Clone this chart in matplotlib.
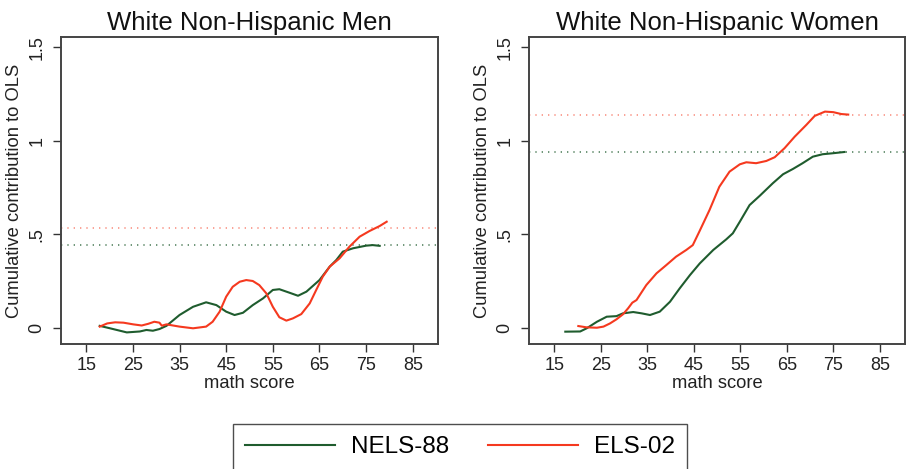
import matplotlib
matplotlib.use("Agg")
import matplotlib.pyplot as plt

plt.rcParams['font.family'] = ['Liberation Sans', 'DejaVu Sans']

# couleurs des deux enquetes
vert = '#1f5c2e'
rouge = '#f5391f'

# hommes blancs non hispaniques
men_nels_x = [17.9, 20.1, 23.7, 26.5, 27.9, 29.3, 30.7, 32.2, 35.0, 37.9, 40.7, 42.9, 45.0, 46.8,
              48.6, 50.7, 52.9, 55.0, 56.4, 58.6, 60.4, 62.2, 65.0, 67.2, 68.6, 70.0, 72.2, 75.0,
              76.4, 77.9]
men_nels_y = [0.010, -0.003, -0.025, -0.020, -0.012, -0.016, -0.007, 0.010, 0.068, 0.112, 0.136,
              0.121, 0.086, 0.068, 0.080, 0.121, 0.157, 0.202, 0.206, 0.187, 0.171, 0.193, 0.255,
              0.327, 0.362, 0.407, 0.425, 0.439, 0.442, 0.438]
men_els_x = [17.9, 19.5, 21.2, 23.0, 25.1, 26.9, 28.3, 29.6, 30.7, 31.2, 32.2, 35.0, 37.9, 40.7,
             42.1, 43.6, 45.0, 46.4, 47.9, 49.3, 50.7, 52.1, 53.6, 55.0, 56.4, 57.9, 59.3, 61.1,
             62.9, 64.3, 65.7, 67.2, 69.3, 71.4, 73.6, 75.7, 77.9, 79.4]
men_els_y = [0.006, 0.023, 0.029, 0.027, 0.018, 0.012, 0.021, 0.032, 0.027, 0.011, 0.018, 0.006,
             -0.003, 0.006, 0.032, 0.086, 0.166, 0.219, 0.246, 0.255, 0.250, 0.228, 0.184, 0.112,
             0.056, 0.038, 0.050, 0.073, 0.130, 0.202, 0.273, 0.327, 0.371, 0.433, 0.487, 0.517,
             0.544, 0.567]
men_ols = [0.442, 0.535]

# femmes blanches non hispaniques
women_nels_x = [17.4, 20.6, 22.0, 24.2, 26.3, 28.4, 29.8, 32.0, 33.8, 35.6, 37.7, 39.9, 42.0,
                44.2, 46.3, 49.2, 52.0, 53.4, 54.9, 57.0, 59.2, 62.0, 64.2, 66.3, 68.4, 70.6,
                72.7, 74.8, 77.4]
women_nels_y = [-0.021, -0.020, -0.003, 0.032, 0.059, 0.062, 0.077, 0.084, 0.077, 0.068, 0.086,
                0.139, 0.211, 0.282, 0.344, 0.416, 0.473, 0.505, 0.567, 0.656, 0.706, 0.773,
                0.821, 0.849, 0.880, 0.915, 0.928, 0.933, 0.940]
women_els_x = [20.2, 22.0, 24.2, 25.6, 27.0, 28.4, 29.8, 30.9, 31.8, 32.7, 34.8, 37.0, 39.1,
               41.2, 43.4, 44.8, 46.2, 48.4, 50.5, 52.7, 54.9, 56.3, 58.4, 60.6, 62.4, 64.5,
               66.7, 69.2, 71.0, 73.2, 75.0, 76.7, 78.2]
women_els_y = [0.009, 0.002, 0.000, 0.006, 0.023, 0.045, 0.072, 0.104, 0.134, 0.148, 0.228,
               0.291, 0.335, 0.380, 0.416, 0.442, 0.514, 0.630, 0.754, 0.835, 0.874, 0.885,
               0.880, 0.892, 0.912, 0.960, 1.022, 1.085, 1.133, 1.156, 1.153, 1.143, 1.140]
women_ols = [0.940, 1.140]

titres = ['White Non-Hispanic Men', 'White Non-Hispanic Women']
xticks = [15, 25, 35, 45, 55, 65, 75, 85]
yticks = [0, 0.5, 1, 1.5]
yticklabels = ['0', '.5', '1', '1.5']

fig = plt.figure(figsize=(9.06, 4.69), dpi=100)
ax1 = fig.add_axes([61 / 906, 125 / 469, 377 / 906, 307 / 469])
ax2 = fig.add_axes([529 / 906, 125 / 469, 376 / 906, 307 / 469])

donnees = [
    (ax1, men_nels_x, men_nels_y, men_els_x, men_els_y, men_ols),
    (ax2, women_nels_x, women_nels_y, women_els_x, women_els_y, women_ols),
]

for i, (ax, nx, ny, ex, ey, ols) in enumerate(donnees):
    # droites des coefficients OLS
    ax.axhline(ols[0], color=vert, lw=1.2, linestyle=(0, (0.8, 3.0)), alpha=0.75)
    ax.axhline(ols[1], color=rouge, lw=1.2, linestyle=(0, (0.8, 3.0)), alpha=0.55)
    # courbes cumulees
    ax.plot(nx, ny, color=vert, lw=1.5, label='NELS-88')
    ax.plot(ex, ey, color=rouge, lw=1.5, label='ELS-02')

    ax.set_xlim(9.6, 90.4)
    ax.set_ylim(-0.087, 1.555)
    ax.set_xticks(xticks)
    ax.set_yticks(yticks)
    ax.set_yticklabels(yticklabels, rotation=90, va='center')
    ax.tick_params(axis='both', labelsize=13, length=6, width=1, color='#333333',
                   labelcolor='#222222')
    ax.tick_params(axis='y', pad=5)
    ax.tick_params(axis='x', pad=3)
    for s in ax.spines.values():
        s.set_color('#444444')
        s.set_linewidth(1.4)
    ax.set_title(titres[i], fontsize=18.5, pad=5, color='#111111')
    ax.set_xlabel('math score', fontsize=13.2, labelpad=1, color='#222222')
    ax.set_ylabel('Cumulative contribution to OLS', fontsize=13.2, labelpad=4, color='#222222')

# legende commune
handles, labels = ax1.get_legend_handles_labels()
leg = fig.legend(handles, labels, loc='center', bbox_to_anchor=(460 / 906, 1 - 447 / 469),
                 ncol=2, fontsize=17.5, frameon=True, fancybox=False, handlelength=3.7,
                 handletextpad=0.65, columnspacing=1.6, borderpad=0.5)
leg.get_frame().set_edgecolor('#222222')
leg.get_frame().set_linewidth(1.0)

fig.savefig('out.png', dpi=100)
